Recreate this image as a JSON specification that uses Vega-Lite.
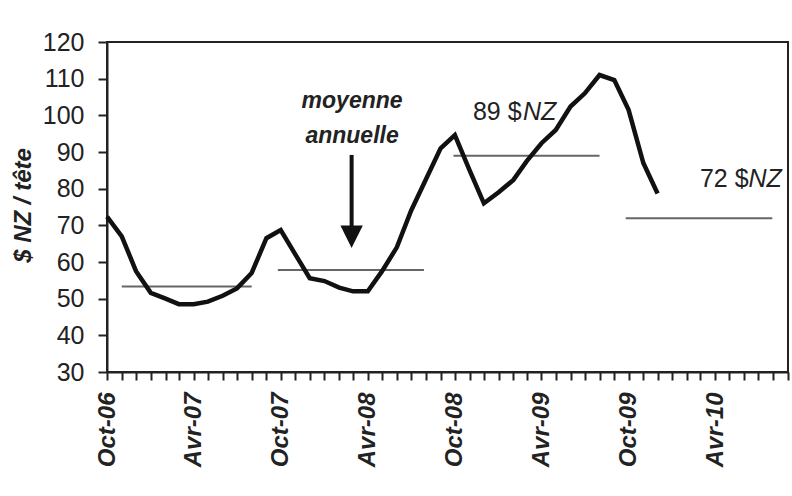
{
  "$schema": "https://vega.github.io/schema/vega-lite/v6.json",
  "autosize": {"type": "none"},
  "padding": {"left": 107, "top": 42, "right": 4, "bottom": 124},
  "width": 681,
  "height": 330,
  "background": "white",
  "config": {
    "view": {"stroke": "#222", "strokeWidth": 2},
    "font": "Liberation Sans"
  },
  "datasets": {
    "series": [
      {"date": "2006-10-01", "value": 72.4},
      {"date": "2006-11-01", "value": 67},
      {"date": "2006-12-01", "value": 57.5},
      {"date": "2007-01-01", "value": 51.6},
      {"date": "2007-02-01", "value": 50},
      {"date": "2007-03-01", "value": 48.5},
      {"date": "2007-04-01", "value": 48.5},
      {"date": "2007-05-01", "value": 49.2},
      {"date": "2007-06-01", "value": 50.8},
      {"date": "2007-07-01", "value": 52.8},
      {"date": "2007-08-01", "value": 57},
      {"date": "2007-09-01", "value": 66.5},
      {"date": "2007-10-01", "value": 68.7},
      {"date": "2007-11-01", "value": 62},
      {"date": "2007-12-01", "value": 55.6},
      {"date": "2008-01-01", "value": 54.8},
      {"date": "2008-02-01", "value": 53},
      {"date": "2008-03-01", "value": 52},
      {"date": "2008-04-01", "value": 52},
      {"date": "2008-05-01", "value": 57.5},
      {"date": "2008-06-01", "value": 64},
      {"date": "2008-07-01", "value": 74},
      {"date": "2008-08-01", "value": 82.5},
      {"date": "2008-09-01", "value": 91},
      {"date": "2008-10-01", "value": 94.6},
      {"date": "2008-11-01", "value": 85},
      {"date": "2008-12-01", "value": 76},
      {"date": "2009-01-01", "value": 79},
      {"date": "2009-02-01", "value": 82.4},
      {"date": "2009-03-01", "value": 87.5},
      {"date": "2009-04-01", "value": 92.4},
      {"date": "2009-05-01", "value": 96},
      {"date": "2009-06-01", "value": 102.4},
      {"date": "2009-07-01", "value": 106},
      {"date": "2009-08-01", "value": 111},
      {"date": "2009-09-01", "value": 109.6},
      {"date": "2009-10-01", "value": 101.5},
      {"date": "2009-11-01", "value": 87},
      {"date": "2009-12-01", "value": 78.7}
    ],
    "averages": [
      {"date": "2006-11-01", "date2": "2007-08-01", "value": 53.3},
      {"date": "2007-09-25", "date2": "2008-07-28", "value": 57.8},
      {"date": "2008-09-28", "date2": "2009-08-01", "value": 89},
      {"date": "2009-09-25", "date2": "2010-07-30", "value": 71.9}
    ],
    "arrow": [
      {"date": "2008-02-27", "value": 89.2, "value2": 69.8}
    ],
    "arrowhead": [
      {"date": "2008-02-27", "value": 66.9}
    ],
    "notes": [
      {"date": "2008-02-28", "value": 102.0, "text": "moyenne"},
      {"date": "2008-02-28", "value": 92.5, "text": "annuelle"}
    ],
    "amounts": [
      {"date": "2008-11-08", "value": 98.7, "text": "89 $"},
      {"date": "2010-02-28", "value": 80.5, "text": "72 $"}
    ],
    "units": [
      {"date": "2009-05-02", "value": 98.7, "text": "NZ"},
      {"date": "2010-08-19", "value": 80.5, "text": "NZ"}
    ]
  },
  "encoding": {
    "x": {
      "field": "date",
      "type": "temporal",
      "scale": {
        "type": "utc",
        "domain": [
          {"year": 2006, "month": 10, "date": 1, "utc": true},
          {"year": 2010, "month": 9, "date": 1, "utc": true}
        ],
        "nice": false
      },
      "axis": {
        "title": null,
        "grid": false,
        "tickCount": {"interval": "month", "step": 1},
        "labelExpr": "utcmonth(datum.value) == 9 ? 'Oct-' + utcFormat(datum.value, '%y') : (utcmonth(datum.value) == 3 ? 'Avr-' + utcFormat(datum.value, '%y') : '')",
        "labelAngle": -90,
        "labelAlign": "right",
        "labelBaseline": "middle",
        "labelFont": "Liberation Sans",
        "labelFontSize": 24,
        "labelFontWeight": "bold",
        "labelFontStyle": "italic",
        "labelColor": "#222",
        "labelPadding": 12,
        "labelOverlap": false,
        "labelFlush": false,
        "labelBound": false,
        "tickSize": 8,
        "tickWidth": 2,
        "tickColor": "#222",
        "domainColor": "#222",
        "domainWidth": 2
      }
    },
    "y": {
      "field": "value",
      "type": "quantitative",
      "scale": {"domain": [30, 120], "nice": false, "zero": false},
      "axis": {
        "title": "$ NZ / tête",
        "titleFont": "Liberation Sans",
        "titleFontSize": 24,
        "titleFontWeight": "bold",
        "titleFontStyle": "italic",
        "titleColor": "#222",
        "titleX": -84,
        "titleY": 163,
        "titleAngle": -90,
        "titleAlign": "center",
        "titleBaseline": "middle",
        "grid": false,
        "values": [30, 40, 50, 60, 70, 80, 90, 100, 110, 120],
        "labelFont": "Liberation Sans",
        "labelFontSize": 25,
        "labelColor": "#222",
        "labelPadding": 14,
        "tickSize": 9,
        "tickWidth": 2,
        "tickColor": "#222",
        "domainColor": "#222",
        "domainWidth": 2
      }
    }
  },
  "layer": [
    {
      "data": {"name": "averages"},
      "mark": {"type": "rule", "color": "#666", "strokeWidth": 2},
      "encoding": {"x2": {"field": "date2"}}
    },
    {
      "data": {"name": "series"},
      "mark": {"type": "line", "color": "#111", "strokeWidth": 4.5, "strokeJoin": "miter"},
      "encoding": {}
    },
    {
      "data": {"name": "arrow"},
      "mark": {"type": "rule", "color": "#111", "strokeWidth": 4},
      "encoding": {"y2": {"field": "value2"}}
    },
    {
      "data": {"name": "arrowhead"},
      "mark": {"type": "point", "shape": "M-1,-1L1,-1L0,1Z", "size": 500, "filled": true, "color": "#111", "opacity": 1},
      "encoding": {}
    },
    {
      "data": {"name": "notes"},
      "mark": {"type": "text", "align": "center", "baseline": "alphabetic", "font": "Liberation Sans", "fontSize": 23, "fontWeight": "bold", "fontStyle": "italic", "color": "#222"},
      "encoding": {"text": {"field": "text"}}
    },
    {
      "data": {"name": "amounts"},
      "mark": {"type": "text", "align": "left", "baseline": "alphabetic", "font": "Liberation Sans", "fontSize": 25, "color": "#222"},
      "encoding": {"text": {"field": "text"}}
    },
    {
      "data": {"name": "units"},
      "mark": {"type": "text", "align": "right", "baseline": "alphabetic", "font": "Liberation Sans", "fontSize": 25, "fontStyle": "italic", "color": "#222"},
      "encoding": {"text": {"field": "text"}}
    }
  ]
}
